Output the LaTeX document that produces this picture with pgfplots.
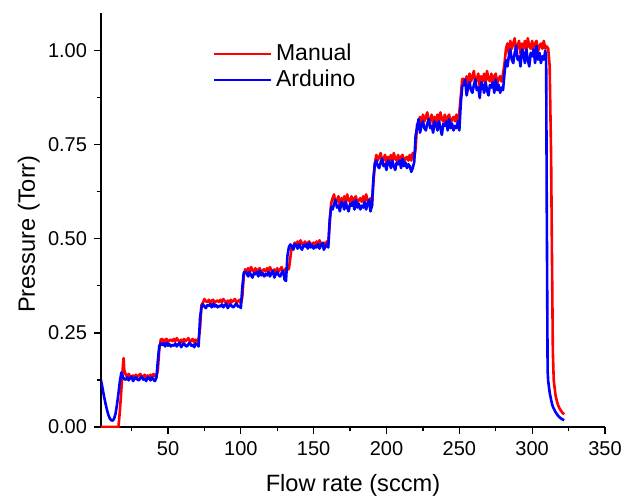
\documentclass[border=0pt]{standalone}
\usepackage{fontspec}
\setmainfont{Liberation Sans}
\usepackage{pgfplots}
\pgfplotsset{compat=1.18}
\usepackage{pgfplotstable}

% x = flow rate (sccm), m = manual, a = arduino (Torr)
\pgfplotstableread{
x m a
4 0 0.125
5 0 0.104
6 0 0.083
7 0 0.064
8 0 0.047
9 0 0.033
10 0 0.023
11 0 0.018
12 0 0.017
13 0 0.022
14 0 0.036
15 0 0.060
16 0 0.090
17 0.045 0.122
18 0.100 0.145
19 0.160 0.133
19.5 0.183 0.130
20 0.150 0.127
21 0.139 0.126
22 0.133 0.132
23 0.141 0.124
24 0.135 0.130
25 0.131 0.134
26 0.137 0.122
27 0.129 0.128
28 0.139 0.132
29 0.133 0.126
30 0.137 0.124
31 0.141 0.130
32 0.131 0.134
33 0.135 0.126
34 0.139 0.128
35 0.129 0.122
36 0.137 0.132
37 0.133 0.130
38 0.139 0.124
39 0.131 0.132
40 0.141 0.126
41 0.135 0.122
42 0.133 0.130
43 0.150 0.175
44 0.205 0.215
45 0.232 0.222
46 0.234 0.218
47 0.224 0.222
48 0.232 0.214
49 0.234 0.224
50 0.226 0.216
51 0.230 0.220
52 0.232 0.214
53 0.228 0.218
54 0.234 0.216
55 0.228 0.222
56 0.236 0.214
57 0.230 0.220
58 0.226 0.224
59 0.232 0.212
60 0.224 0.218
61 0.234 0.222
62 0.228 0.216
63 0.232 0.214
64 0.236 0.220
65 0.226 0.224
66 0.230 0.216
67 0.234 0.218
68 0.224 0.212
69 0.232 0.222
70 0.228 0.220
71 0.234 0.214
72 0.262 0.290
73 0.325 0.318
74 0.330 0.326
75 0.340 0.320
76 0.334 0.316
77 0.332 0.324
78 0.338 0.322
79 0.328 0.326
80 0.336 0.318
81 0.338 0.328
82 0.330 0.320
83 0.334 0.324
84 0.336 0.318
85 0.332 0.322
86 0.338 0.320
87 0.332 0.326
88 0.340 0.318
89 0.334 0.324
90 0.330 0.328
91 0.336 0.316
92 0.328 0.322
93 0.338 0.326
94 0.332 0.320
95 0.336 0.318
96 0.340 0.324
97 0.330 0.328
98 0.334 0.320
99 0.338 0.322
100 0.328 0.316
101 0.345 0.370
102 0.400 0.410
103 0.419 0.412
104 0.413 0.409
105 0.422 0.400
106 0.410 0.412
107 0.425 0.403
108 0.416 0.397
109 0.413 0.409
110 0.422 0.406
111 0.407 0.412
112 0.419 0.400
113 0.422 0.415
114 0.410 0.403
115 0.416 0.409
116 0.419 0.400
117 0.413 0.406
118 0.422 0.403
119 0.413 0.412
120 0.425 0.400
121 0.416 0.409
122 0.410 0.415
123 0.419 0.397
124 0.407 0.406
125 0.422 0.412
126 0.413 0.403
127 0.419 0.400
128 0.425 0.409
129 0.410 0.415
130 0.416 0.392
131 0.422 0.388
132 0.418 0.455
133 0.420 0.478
134 0.450 0.485
135 0.482 0.480
136 0.478 0.471
137 0.490 0.486
138 0.484 0.483
139 0.493 0.474
140 0.481 0.486
141 0.496 0.477
142 0.487 0.471
143 0.484 0.483
144 0.493 0.480
145 0.478 0.486
146 0.490 0.474
147 0.493 0.489
148 0.481 0.477
149 0.487 0.483
150 0.490 0.474
151 0.484 0.480
152 0.493 0.477
153 0.484 0.486
154 0.496 0.474
155 0.487 0.483
156 0.481 0.489
157 0.490 0.471
158 0.478 0.480
159 0.493 0.486
160 0.484 0.477
161 0.540 0.550
162 0.595 0.585
163 0.608 0.578
164 0.618 0.593
165 0.593 0.603
166 0.603 0.583
167 0.613 0.588
168 0.588 0.573
169 0.608 0.598
170 0.598 0.593
171 0.613 0.578
172 0.593 0.598
173 0.618 0.583
174 0.603 0.573
175 0.598 0.593
176 0.613 0.588
177 0.588 0.598
178 0.608 0.578
179 0.613 0.603
180 0.593 0.583
181 0.603 0.593
182 0.608 0.578
183 0.598 0.588
184 0.613 0.583
185 0.598 0.598
186 0.618 0.578
187 0.603 0.593
188 0.593 0.603
189 0.608 0.573
190 0.588 0.588
191 0.650 0.660
192 0.700 0.700
193 0.723 0.708
194 0.708 0.693
195 0.718 0.688
196 0.728 0.703
197 0.703 0.713
198 0.713 0.693
199 0.723 0.698
200 0.698 0.683
201 0.718 0.708
202 0.708 0.703
203 0.723 0.688
204 0.703 0.708
205 0.728 0.693
206 0.713 0.683
207 0.708 0.703
208 0.723 0.698
209 0.698 0.708
210 0.718 0.688
211 0.723 0.713
212 0.703 0.693
213 0.713 0.703
214 0.718 0.688
215 0.708 0.698
216 0.723 0.693
217 0.708 0.678
218 0.728 0.688
219 0.713 0.703
220 0.740 0.775
221 0.805 0.795
222 0.806 0.818
223 0.824 0.782
224 0.800 0.800
225 0.830 0.812
226 0.812 0.794
227 0.824 0.788
228 0.836 0.806
229 0.806 0.818
230 0.818 0.794
231 0.830 0.800
232 0.800 0.782
233 0.824 0.812
234 0.812 0.806
235 0.830 0.788
236 0.806 0.812
237 0.836 0.794
238 0.818 0.776
239 0.812 0.806
240 0.830 0.800
241 0.800 0.812
242 0.824 0.788
243 0.830 0.818
244 0.806 0.794
245 0.818 0.806
246 0.824 0.788
247 0.812 0.800
248 0.830 0.794
249 0.812 0.812
250 0.836 0.788
251 0.880 0.860
252 0.925 0.905
253 0.925 0.909
254 0.911 0.923
255 0.932 0.881
256 0.904 0.902
257 0.939 0.916
258 0.918 0.895
259 0.932 0.888
260 0.946 0.909
261 0.911 0.923
262 0.925 0.895
263 0.939 0.902
264 0.904 0.874
265 0.932 0.916
266 0.918 0.909
267 0.939 0.888
268 0.911 0.916
269 0.946 0.895
270 0.925 0.881
271 0.918 0.909
272 0.939 0.902
273 0.904 0.916
274 0.932 0.888
275 0.939 0.923
276 0.911 0.895
277 0.925 0.909
278 0.932 0.888
279 0.918 0.902
280 0.939 0.895
281 0.965 0.940
282 1.005 0.975
283 1.019 0.958
284 0.991 0.985
285 1.026 1.003
286 1.005 0.976
287 1.019 0.967
288 1.033 0.994
289 0.998 1.012
290 1.012 0.976
291 1.026 0.985
292 0.991 0.958
293 1.019 1.003
294 1.005 0.994
295 1.026 0.967
296 0.998 1.003
297 1.033 0.976
298 1.012 0.958
299 1.005 0.994
300 1.026 0.985
301 0.991 1.003
302 1.019 0.967
303 1.026 1.012
304 0.998 0.976
305 1.012 0.994
306 1.019 0.967
307 1.005 0.985
308 1.026 0.976
309 1.005 1.000
309.6 1.012 0.980
310 1.010 0.600
310.6 1.008 0.150
311 1.005 0.122
312 0.960 0.092
313 0.720 0.072
313.6 0.450 0.062
314.2 0.200 0.054
314.8 0.125 0.049
316 0.085 0.040
317 0.068 0.034
318 0.056 0.029
319 0.048 0.025
320 0.042 0.022
321 0.037 0.020
322 0.034 0.018
}\pressure

\begin{document}
\begin{tikzpicture}
\useasboundingbox (-50.5pt,-35pt) rectangle (262pt,213.5pt);
\begin{axis}[
  scale only axis,
  width=252pt, height=207pt,
  xmin=4, xmax=350, ymin=0, ymax=1.1,
  axis x line=bottom, axis y line=left,
  axis line style={-, line width=0.6pt},
  xtick={50,100,...,350},
  minor xtick={25,75,...,325},
  ytick={0,0.25,0.5,0.75,1},
  minor ytick={0.125,0.375,0.625,0.875},
  tick align=outside,
  major tick length=3.5pt, minor tick length=2.2pt,
  tick style={line width=0.6pt, black},
  /pgf/number format/assume math mode=true,
  tick label style={font=\fontsize{10}{12}\selectfont},
  yticklabel style={/pgf/number format/.cd, fixed, fixed zerofill, precision=2},
  xticklabel style={/pgf/number format/.cd, fixed},
  xlabel={Flow rate (sccm)},
  ylabel={Pressure (Torr)},
  label style={font=\fontsize{11.8}{14}\selectfont},
  xlabel style={at={(axis description cs:0.5,-0.1546)}, anchor=base},
  ylabel style={at={(axis description cs:-0.131,0.466)}, anchor=base},
  legend style={draw=none, fill=none, at={(rel axis cs:0.222,0.935)}, anchor=north west,
    font=\fontsize{11.5}{14}\selectfont, inner sep=0pt, row sep=-1pt},
  legend cell align=left,
  legend image code/.code={\draw[#1, line width=0.9pt] (0pt,0pt) -- (28.5pt,0pt);},
  every axis plot/.append style={line width=1.3pt, line join=round},
]
\addplot[color={rgb,255:red,255;green,0;blue,0}] table[x=x, y=m] {\pressure};
\addplot[color={rgb,255:red,0;green,0;blue,255}] table[x=x, y=a] {\pressure};
\legend{Manual, Arduino}
\end{axis}
\end{tikzpicture}
\end{document}
